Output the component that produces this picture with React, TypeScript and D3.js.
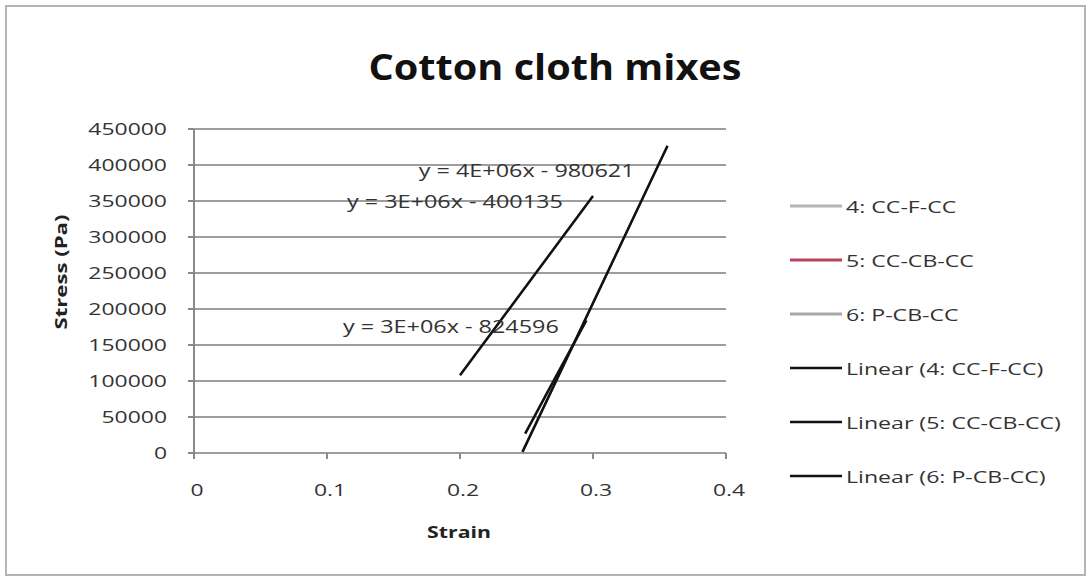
import React from "react";
import * as d3 from "d3";

const W = 1092;
const H = 582;

const title = "Cotton cloth mixes";
const xLabel = "Strain";
const yLabel = "Stress (Pa)";

const xTicks = [0, 0.1, 0.2, 0.3, 0.4];
const xTickLabels = ["0", "0.1", "0.2", "0.3", "0.4"];
const yTicks = [0, 50000, 100000, 150000, 200000, 250000, 300000, 350000, 400000, 450000];

const seriesColors = ["#b4b4b4", "#b8435c", "#a8a8a8"];

// measured data (strain, stress)
const strain4 = [0.2, 0.22, 0.24, 0.26, 0.28, 0.3];
const stress4 = [108000, 158000, 208000, 257000, 307000, 357000];
const strain5 = [0.247, 0.26, 0.28, 0.3, 0.32, 0.34, 0.356];
const stress5 = [2000, 52000, 130000, 208000, 286000, 364000, 426000];
const strain6 = [0.249, 0.255, 0.265, 0.275, 0.285, 0.295];
const stress6 = [27000, 47000, 83000, 117000, 150000, 184000];

// fitted trendlines (as drawn): stress = slope * strain + intercept
const trendSlopes = [2490000, 3900000, 3420000];
const trendIntercepts = [-390000, -961700, -824596];
const trendLabels = ["y = 3E+06x - 400135", "y = 4E+06x - 980621", "y = 3E+06x - 824596"];

const legendLabels = [
  "4: CC-F-CC",
  "5: CC-CB-CC",
  "6: P-CB-CC",
  "Linear (4: CC-F-CC)",
  "Linear (5: CC-CB-CC)",
  "Linear (6: P-CB-CC)",
];

const FONT = "'Open Sans', sans-serif";

function T(props: any) {
  const { x, y, sx = 1, anchor = "start", size = 17, weight = "normal", fill = "#222", children, rot = 0, len } = props;
  const tr = `translate(${x},${y})` + (rot ? ` rotate(${rot})` : "") + (sx !== 1 ? ` scale(${sx},1)` : "");
  return (
    <text
      transform={tr}
      textAnchor={anchor}
      fontFamily={FONT}
      fontSize={size}
      fontWeight={weight}
      fill={fill}
      textLength={len}
      lengthAdjust={len ? "spacingAndGlyphs" : undefined}
    >
      {children}
    </text>
  );
}

export default function App() {
  const x = d3.scaleLinear().domain([0, 0.4]).range([194, 726]);
  const y = d3.scaleLinear().domain([0, 450000]).range([453, 129]);

  const line = d3
    .line<[number, number]>()
    .x((d) => x(d[0]))
    .y((d) => y(d[1]));

  const data = [
    strain4.map((s, i) => [s, stress4[i]] as [number, number]),
    strain5.map((s, i) => [s, stress5[i]] as [number, number]),
    strain6.map((s, i) => [s, stress6[i]] as [number, number]),
  ];

  const trends = data.map((pts, k) => {
    const [x0, x1] = d3.extent(pts, (p) => p[0]) as [number, number];
    return [x0, x1].map((s) => [s, trendSlopes[k] * s + trendIntercepts[k]] as [number, number]);
  });

  // label anchor positions (data coords) for trendline equations
  const labelPos: [number, number][] = [
    [0.115, 350000],
    [0.169, 392000],
    [0.112, 176000],
  ];

  const legendY = (i: number) => 206 + i * 54;

  return (
    <svg width={W} height={H} style={{ position: "absolute", left: 0, top: 0, background: "#fff" }}>
      <rect x={0} y={0} width={W} height={H} fill="#fff" />
      <rect x={6} y={6} width={1079} height={569} fill="none" stroke="#b4b4b4" strokeWidth={2} />

      <T x={555} y={80} anchor="middle" size={36} weight="bold" fill="#111" len={373}>
        {title}
      </T>

      {/* gridlines */}
      {yTicks.map((t) => (
        <line key={"g" + t} x1={x(0)} x2={x(0.4)} y1={y(t)} y2={y(t)} stroke="#9d9d9d" strokeWidth={2} />
      ))}
      {/* y axis */}
      <line x1={x(0)} x2={x(0)} y1={y(450000)} y2={y(0)} stroke="#8a8a8a" strokeWidth={2} />
      {yTicks.map((t) => (
        <line key={"yt" + t} x1={x(0) - 6} x2={x(0)} y1={y(t)} y2={y(t)} stroke="#8a8a8a" strokeWidth={2} />
      ))}
      {yTicks.map((t) => (
        <T key={"yl" + t} x={167} y={y(t) + 6} anchor="end" size={17} sx={1.35} fill="#333">
          {String(t)}
        </T>
      ))}
      {/* x axis ticks */}
      {xTicks.map((t) => (
        <line key={"xt" + t} x1={x(t)} x2={x(t)} y1={y(0)} y2={y(0) + 6} stroke="#8a8a8a" strokeWidth={2} />
      ))}
      {xTicks.map((t, i) => (
        <T key={"xl" + t} x={x(t) + 3} y={496} anchor="middle" size={17} sx={1.35} fill="#333">
          {xTickLabels[i]}
        </T>
      ))}

      <T x={459} y={538} anchor="middle" size={16} weight="bold" sx={1.33} fill="#222">
        {xLabel}
      </T>
      <T x={67} y={272} anchor="middle" size={16} weight="bold" rot={-90} len={115} fill="#222">
        {yLabel}
      </T>

      {/* data series */}
      {data.map((pts, k) => (
        <path key={"d" + k} d={line(pts) || ""} fill="none" stroke={seriesColors[k]} strokeWidth={2} />
      ))}
      {/* trendlines */}
      {trends.map((pts, k) => (
        <path key={"t" + k} d={line(pts) || ""} fill="none" stroke="#111" strokeWidth={2.5} />
      ))}
      {/* trendline equations */}
      {trendLabels.map((s, k) => (
        <T key={"tl" + k} x={x(labelPos[k][0])} y={y(labelPos[k][1]) + 6.5} size={18} sx={1.3} fill="#333">
          {s}
        </T>
      ))}

      {/* legend */}
      {legendLabels.map((s, i) => (
        <g key={"lg" + i}>
          <line
            x1={790}
            x2={842}
            y1={legendY(i)}
            y2={legendY(i)}
            stroke={i < 3 ? seriesColors[i] : "#111"}
            strokeWidth={i < 3 ? 3 : 2.5}
          />
          <T x={846} y={legendY(i) + 6.5} size={17} sx={1.36} fill="#333">
            {s}
          </T>
        </g>
      ))}
    </svg>
  );
}
